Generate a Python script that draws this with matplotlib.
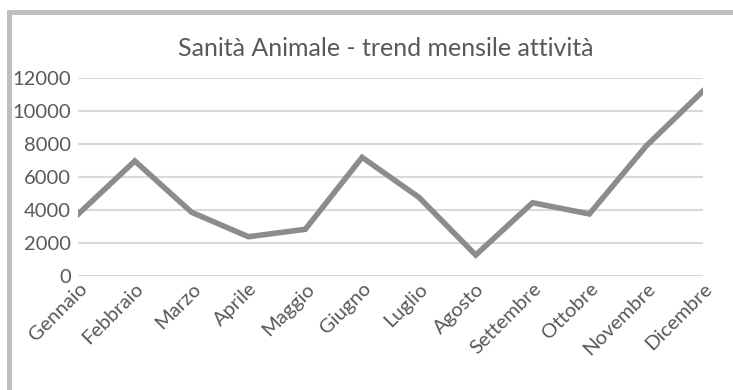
import matplotlib
matplotlib.use("Agg")
import matplotlib.pyplot as plt
from matplotlib.patches import Rectangle

mesi = ["Gennaio", "Febbraio", "Marzo", "Aprile", "Maggio", "Giugno",
        "Luglio", "Agosto", "Settembre", "Ottobre", "Novembre", "Dicembre"]
attivita = [3740, 6970, 3860, 2380, 2830, 7190, 4770, 1270, 4440, 3760, 7880, 11210]
y_ticks = [0, 2000, 4000, 6000, 8000, 10000, 12000]

testo = "#595959"
plt.rcParams['font.family'] = ['Lato', 'DejaVu Sans']

fig = plt.figure(figsize=(7.33, 3.9), dpi=100)
ax = fig.add_axes([78 / 733, 1 - 276 / 390, (703 - 78) / 733, (276 - 78) / 390])

ax.plot(range(len(mesi)), attivita, color="#8c8c8c", lw=4, solid_joinstyle="miter")

ax.set_xlim(0, len(mesi) - 1)
ax.set_ylim(0, 12000)
ax.set_yticks(y_ticks)
ax.set_yticklabels([str(v) for v in y_ticks], fontsize=14.5, color=testo)
ax.set_xticks(range(len(mesi)))
ax.set_xticklabels(mesi, rotation=45, ha="right", rotation_mode="anchor",
                   fontsize=14.5, color=testo)
ax.tick_params(axis="y", length=0, pad=5)
ax.tick_params(axis="x", length=0, pad=3)
ax.grid(axis="y", color="#d9d9d9", lw=1.5)
ax.set_axisbelow(True)
for s in ax.spines.values():
    s.set_visible(False)

fig.text(386 / 733, 1 - 49 / 390, "Sanità Animale - trend mensile attività",
         ha="center", va="center", fontsize=18, color=testo)

# cornice del grafico (tagliata a destra e in basso)
fig.patches.append(Rectangle((8.5 / 733, -0.1), 1.0, 1 - 11.5 / 390 + 0.1,
                             transform=fig.transFigure, fill=False,
                             edgecolor="#bfbfbf", lw=3.6))

fig.savefig("out.png", dpi=100)
